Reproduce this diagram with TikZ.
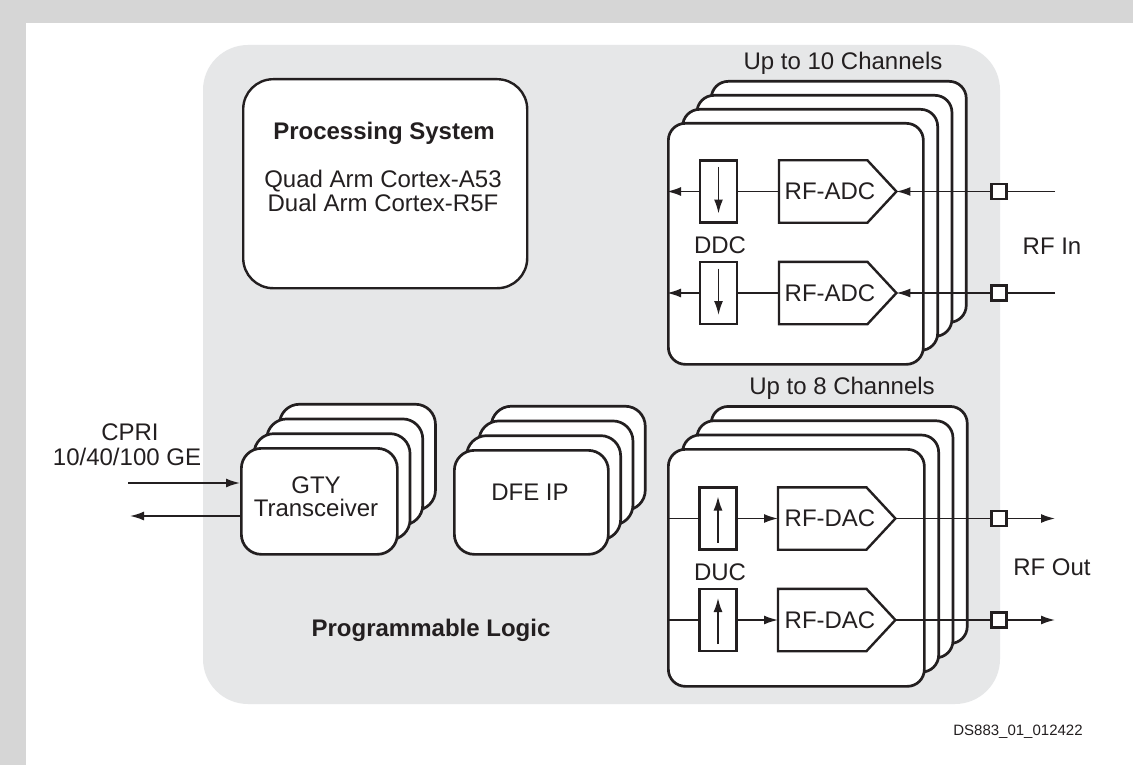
\documentclass[tikz,border=0pt]{standalone}
\usepackage{fontspec}
\setmainfont{Liberation Sans}
\usetikzlibrary{arrows.meta,calc}
\definecolor{outergray}{RGB}{214,214,214}
\definecolor{panelgray}{RGB}{230,231,232}
\definecolor{ink}{RGB}{35,31,32}
\begin{document}
\begin{tikzpicture}[x=1pt,y=-1pt,
  card/.style={draw=ink, line width=2.7pt, fill=white, rounded corners=17pt, inner sep=0pt},
  bigcard/.style={card, rounded corners=20pt},
  sig/.style={draw=ink, line width=1.6pt},
  arr/.style={sig, -{Latex[length=14pt,width=9pt]}},
  txt/.style={font=\fontsize{24}{26}\selectfont, text=ink, inner sep=0pt},
  btxt/.style={font=\fontsize{24}{26}\selectfont\bfseries, text=ink, inner sep=0pt},
  ubox/.style={draw=ink, line width=2.5pt, minimum width=37pt, minimum height=62pt, inner sep=0pt},
  pent/.style={minimum width=88pt, minimum height=62pt, inner sep=0pt, anchor=west},
  pentline/.style={draw=ink, line width=2.4pt, line join=miter},
  port/.style={draw=ink, fill=white, line width=2.4pt, minimum width=15pt, minimum height=15pt, inner sep=0pt}
]
\useasboundingbox (0,0) rectangle (1133,765);
\fill[outergray] (0,0) rectangle (1133,765);
\fill[white] (26,23) rectangle (1133,765);
% panel
\fill[panelgray, rounded corners=45pt] (203,45) rectangle (1000,704);

% Processing system
\node[card, rounded corners=30pt, line width=2.4pt, minimum width=284pt, minimum height=209pt, anchor=north west] (ps) at (242,78) {};
\node[btxt] (pst) at (384,133) {Processing System};
\node[txt] (ps1) at (383,181) {Quad Arm Cortex-A53};
\node[txt] (ps2) at (383,203) {Dual Arm Cortex-R5F};

% ADC stack
\foreach \k in {3,2,1} {
  \node[card, minimum width=255pt, minimum height=241pt, anchor=north west] (adcS\k) at ({667+14.3*\k},{122-14*\k}) {};
}
\node[card, minimum width=255pt, minimum height=241pt, anchor=north west] (adcF) at (667,122) {};
\node[txt] (adct) at (843,63) {Up to 10 Channels};

% DAC stack
\foreach \k in {3,2,1} {
  \node[card, minimum width=256pt, minimum height=237pt, anchor=north west] (dacS\k) at ({667+14.3*\k},{448-14.3*\k}) {};
}
\node[card, minimum width=256pt, minimum height=237pt, anchor=north west] (dacF) at (667,448) {};
\node[txt] (dact) at (842,388) {Up to 8 Channels};

% GTY stack
\foreach \k in {3,2,1} {
  \node[bigcard, minimum width=156pt, minimum height=106pt, anchor=north west] (gtyS\k) at ({240+12.7*\k},{447-14.7*\k}) {};
}
\node[bigcard, minimum width=156pt, minimum height=106pt, anchor=north west] (gtyF) at (240,447) {};
\node[txt] (gty1) at (316,485) {GTY};
\node[txt] (gty2) at (316,508) {Transceiver};

% DFE stack
\foreach \k in {3,2,1} {
  \node[bigcard, minimum width=154pt, minimum height=104pt, anchor=north west] (dfeS\k) at ({453+12.3*\k},{449-14.7*\k}) {};
}
\node[bigcard, minimum width=154pt, minimum height=104pt, anchor=north west] (dfeF) at (453,449) {};
\node[txt] (dfet) at (530,492) {DFE IP};

% CPRI
\node[txt] (cpri1) at (130,432) {CPRI};
\node[txt] (cpri2) at (127,457) {10/40/100 GE};
\coordinate (cpriIn) at (128,483);
\coordinate (cpriOut) at (130,516);
\draw[arr] (cpriIn) -- (cpriIn -| gtyF.west);
\draw[arr] (gtyF.west |- cpriOut) -- (cpriOut);

% ADC rows
\foreach \r/\y in {1/191.5, 2/293} {
  \node[ubox] (ddc\r) at (718.5,\y) {};
  \draw[arr] (718.5,\y-24.5) -- (718.5,\y+22);
  \node[pent] (adc\r) at (779,\y) {};
  \draw[pentline] (adc\r.north west) -- (adc\r.north east) -- ($(adc\r.east)+(29,0)$) -- (adc\r.south east) -- (adc\r.south west) -- cycle;
  \coordinate (adcTip\r) at ($(adc\r.east)+(29,0)$);
  \node[txt] (adcT\r) at (830,\y) {RF-ADC};
  \node[port] (pin\r) at (999,\y) {};
  \coordinate (rfin\r) at (1055,\y);
  \draw[sig] (ddc\r.east) -- (adc\r.west);
  \draw[arr] (ddc\r.west) -- (ddc\r.west -| adcF.west);
  \draw[sig] (rfin\r) -- (pin\r.east);
  \draw[arr] (pin\r.west) -- (adcTip\r);
}
\node[txt] (ddcT) at (720,245) {DDC};
\node[txt] (rfinT) at (1052,246) {RF In};

% DAC rows
\foreach \r/\y in {1/518.5, 2/620} {
  \node[ubox] (duc\r) at (718,\y) {};
  \draw[arr] (718,\y+24) -- (718,\y-22);
  \node[pent] (dac\r) at (778,\y) {};
  \draw[pentline] (dac\r.north west) -- (dac\r.north east) -- ($(dac\r.east)+(29,0)$) -- (dac\r.south east) -- (dac\r.south west) -- cycle;
  \coordinate (dacTip\r) at ($(dac\r.east)+(29,0)$);
  \node[txt] (dacT\r) at (830,\y) {RF-DAC};
  \node[port] (pout\r) at (999,\y) {};
  \coordinate (rfout\r) at (1055,\y);
  \draw[sig] (duc\r.west -| dacF.west) -- (duc\r.west);
  \draw[arr] (duc\r.east) -- (dac\r.west);
  \draw[sig] (dacTip\r) -- (pout\r.west);
  \draw[arr] (pout\r.east) -- (rfout\r);
}
\node[txt] (ducT) at (720,572) {DUC};
\node[txt] (rfoutT) at (1052,567) {RF Out};

\node[btxt] (plt) at (431,630) {Programmable Logic};
\node[font=\fontsize{15}{17}\selectfont, text=ink, inner sep=0pt] (dsid) at (1018,732) {DS883\_01\_012422};
\end{tikzpicture}
\end{document}
